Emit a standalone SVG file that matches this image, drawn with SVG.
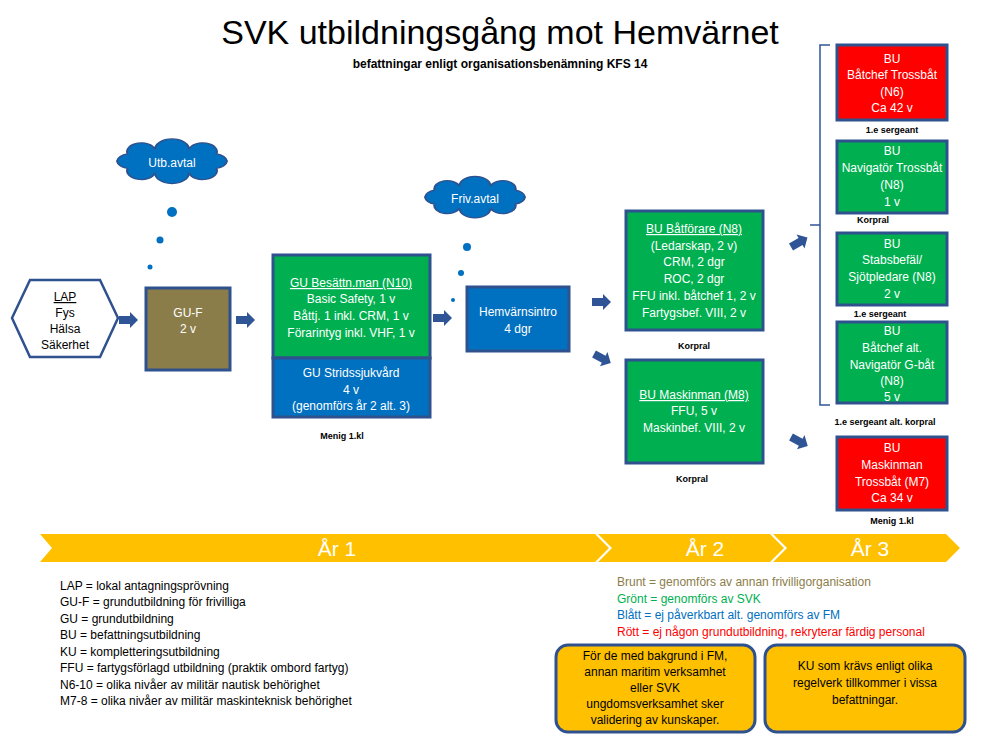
<svg xmlns="http://www.w3.org/2000/svg" xmlns:xlink="http://www.w3.org/1999/xlink" width="1000" height="750" viewBox="0 0 1000 750">
<style>
text{font-family:"Liberation Sans",Arial,sans-serif}
.bx{stroke:#2F528F;stroke-width:3}
.g{fill:#00B050}.b{fill:#0070C0}.r{fill:#FF0000}
.w{fill:#fff;font-size:12px;text-anchor:middle}
.s{font-size:9px;font-weight:bold;text-anchor:middle;fill:#000}
.lg{font-size:12px}
.cl{fill:#0070C0;stroke:#2F528F;stroke-width:2}
.dot{fill:#0070C0}
.yb{fill:#FFC000;stroke:#2F528F;stroke-width:3}
.bt{font-size:12px;text-anchor:middle;fill:#000}
</style>
<defs>
<path id="arr" d="M0,-4 H11 V-8 L19,0 L11,8 V4 H0 Z" fill="#2F5597"/>
</defs>
<rect width="1000" height="750" fill="#fff"/>
<text x="500" y="44" font-size="34" text-anchor="middle">SVK utbildningsgång mot Hemvärnet</text>
<text x="500" y="68" font-size="12" font-weight="bold" text-anchor="middle">befattningar enligt organisationsbenämning KFS 14</text>

<g id="clouds">
<path class="cl" transform="translate(0,62) scale(1,0.62)" d="M227,160 A14,14 0 0 1 216.5,171.8 A14,14 0 0 1 189,179 A14,14 0 0 1 155,179 A14,14 0 0 1 127.5,171.8 A14,14 0 0 1 117,160 A14,14 0 0 1 127.5,148.2 A14,14 0 0 1 155,141 A14,14 0 0 1 189,141 A14,14 0 0 1 216.5,148.2 A14,14 0 0 1 227,160 Z"/>
<text x="172" y="167" class="w" font-size="14">Utb.avtal</text>
<circle class="dot" cx="172" cy="212" r="5"/><circle class="dot" cx="160" cy="240" r="3.5"/><circle class="dot" cx="150" cy="267" r="2.5"/>
<path class="cl" transform="translate(0,75) scale(1,0.62)" d="M525,197 A13,13 0 0 1 515.5,208.2 A13,13 0 0 1 490.5,215 A13,13 0 0 1 459.5,215 A13,13 0 0 1 434.5,208.2 A13,13 0 0 1 425,197 A13,13 0 0 1 434.5,185.8 A13,13 0 0 1 459.5,179 A13,13 0 0 1 490.5,179 A13,13 0 0 1 515.5,185.8 A13,13 0 0 1 525,197 Z"/>
<text x="475" y="203" class="w" font-size="14">Friv.avtal</text>
<circle class="dot" cx="467" cy="247" r="4"/><circle class="dot" cx="461" cy="273" r="3"/><circle class="dot" cx="453" cy="300" r="2"/>
</g>

<g id="lap">
<polygon points="12,318 30,280 100,280 118,318 100,357 30,357" fill="#fff" stroke="#2F528F" stroke-width="2.5"/>
<text class="bt" x="65" y="301" text-decoration="underline">LAP</text>
<text class="bt" x="65" y="317">Fys</text>
<text class="bt" x="65" y="333">Hälsa</text>
<text class="bt" x="65" y="349">Säkerhet</text>
</g>
<g id="guf">
<rect class="bx" x="146" y="288" width="84" height="82" fill="#8B7D49"/>
<text class="w" x="188" y="317">GU-F</text><text class="w" x="188" y="333">2 v</text>
</g>
<g id="gubes">
<rect class="bx g" x="273" y="255" width="157" height="103"/>
<text class="w" x="351" y="287" text-decoration="underline">GU Besättn.man (N10)</text>
<text class="w" x="351" y="303">Basic Safety, 1 v</text>
<text class="w" x="351" y="320">Båttj. 1 inkl. CRM, 1 v</text>
<text class="w" x="351" y="337">Förarintyg inkl. VHF, 1 v</text>
</g>
<g id="gustr">
<rect class="bx b" x="273" y="358" width="157" height="59"/>
<text class="w" x="351" y="377">GU Stridssjukvård</text>
<text class="w" x="351" y="394">4 v</text>
<text class="w" x="351" y="410">(genomförs år 2 alt. 3)</text>
<text class="s" x="342" y="439">Menig 1.kl</text>
</g>
<g id="hemv">
<rect class="bx b" x="467" y="287" width="102" height="64"/>
<text class="w" x="518" y="316">Hemvärnsintro</text><text class="w" x="518" y="333">4 dgr</text>
</g>
<g id="batforare">
<rect class="bx g" x="626" y="211" width="137" height="119"/>
<text class="w" x="694" y="233" text-decoration="underline">BU Båtförare (N8)</text>
<text class="w" x="694" y="250">(Ledarskap, 2 v)</text>
<text class="w" x="694" y="266">CRM, 2 dgr</text>
<text class="w" x="694" y="283">ROC, 2 dgr</text>
<text class="w" x="694" y="300">FFU inkl. båtchef 1, 2 v</text>
<text class="w" x="694" y="317">Fartygsbef. VIII, 2 v</text>
<text class="s" x="694" y="349">Korpral</text>
</g>
<g id="maskinman">
<rect class="bx g" x="626" y="360" width="137" height="103"/>
<text class="w" x="694" y="399" text-decoration="underline">BU Maskinman (M8)</text>
<text class="w" x="694" y="415">FFU, 5 v</text>
<text class="w" x="694" y="432">Maskinbef. VIII, 2 v</text>
<text class="s" x="692" y="482">Korpral</text>
</g>
<g id="r1">
<rect class="bx r" x="837" y="45" width="110" height="75"/>
<text class="w" x="892" y="63">BU</text><text class="w" x="892" y="79">Båtchef Trossbåt</text><text class="w" x="892" y="96">(N6)</text><text class="w" x="892" y="112">Ca 42 v</text>
<text class="s" x="892" y="133">1.e sergeant</text>
</g>
<g id="r2">
<rect class="bx g" x="837" y="141" width="110" height="72"/>
<text class="w" x="892" y="155">BU</text><text class="w" x="892" y="172">Navigatör Trossbåt</text><text class="w" x="892" y="189">(N8)</text><text class="w" x="892" y="206">1 v</text>
<text class="s" x="873" y="223">Korpral</text>
</g>
<g id="r3">
<rect class="bx g" x="837" y="233" width="110" height="72"/>
<text class="w" x="892" y="248">BU</text><text class="w" x="892" y="264">Stabsbefäl/</text><text class="w" x="892" y="281">Sjötpledare (N8)</text><text class="w" x="892" y="298">2 v</text>
<text class="s" x="880" y="317">1.e sergeant</text>
</g>
<g id="r4">
<rect class="bx g" x="837" y="322" width="110" height="81"/>
<text class="w" x="892" y="335">BU</text><text class="w" x="892" y="352">Båtchef alt.</text><text class="w" x="892" y="369">Navigatör G-båt</text><text class="w" x="892" y="385">(N8)</text><text class="w" x="892" y="401">5 v</text>
<text class="s" x="885" y="425">1.e sergeant alt. korpral</text>
</g>
<g id="r5">
<rect class="bx r" x="837" y="437" width="110" height="73"/>
<text class="w" x="892" y="452">BU</text><text class="w" x="892" y="469">Maskinman</text><text class="w" x="892" y="486">Trossbåt (M7)</text><text class="w" x="892" y="502">Ca 34 v</text>
<text class="s" x="892" y="524">Menig 1.kl</text>
</g>

<g id="connectors">
<use xlink:href="#arr" transform="translate(119,320)"/>
<use xlink:href="#arr" transform="translate(236,320)"/>
<use xlink:href="#arr" transform="translate(433,318)"/>
<use xlink:href="#arr" transform="translate(592,302)"/>
<use xlink:href="#arr" transform="translate(594,354) rotate(28)"/>
<use xlink:href="#arr" transform="translate(791,247) rotate(-30)"/>
<use xlink:href="#arr" transform="translate(791,437) rotate(28)"/>
<path d="M830,45 H820 V405 H830 M820,225 H810" fill="none" stroke="#2F5597" stroke-width="1.5"/>
</g>

<g id="timeline">
<polygon points="40,534 595,534 609,548 595,562 40,562 52,548" fill="#FFC000"/>
<polygon points="598,534 770,534 784,548 770,562 598,562 612,548" fill="#FFC000"/>
<polygon points="773,534 946,534 960,548 946,562 773,562 787,548" fill="#FFC000"/>
<text x="337" y="556" font-size="21" fill="#fff" text-anchor="middle">År 1</text>
<text x="705" y="556" font-size="21" fill="#fff" text-anchor="middle">År 2</text>
<text x="870" y="556" font-size="21" fill="#fff" text-anchor="middle">År 3</text>
</g>

<g id="legend">
<text class="lg" x="60" y="590" fill="#000">LAP = lokal antagningsprövning</text>
<text class="lg" x="60" y="606" fill="#000">GU-F = grundutbildning för frivilliga</text>
<text class="lg" x="60" y="623" fill="#000">GU = grundutbildning</text>
<text class="lg" x="60" y="639" fill="#000">BU = befattningsutbildning</text>
<text class="lg" x="60" y="656" fill="#000">KU = kompletteringsutbildning</text>
<text class="lg" x="60" y="672" fill="#000">FFU = fartygsförlagd utbildning (praktik ombord fartyg)</text>
<text class="lg" x="60" y="689" fill="#000">N6-10 = olika nivåer av militär nautisk behörighet</text>
<text class="lg" x="60" y="705" fill="#000">M7-8 = olika nivåer av militär maskinteknisk behörighet</text>
<text class="lg" x="617" y="586" fill="#8B7D49">Brunt = genomförs av annan frivilligorganisation</text>
<text class="lg" x="617" y="603" fill="#00B050">Grönt = genomförs av SVK</text>
<text class="lg" x="617" y="619" fill="#0070C0">Blått = ej påverkbart alt. genomförs av FM</text>
<text class="lg" x="617" y="636" fill="#FF0000">Rött = ej någon grundutbildning, rekryterar färdig personal</text>
</g>
<g id="note1">
<rect class="yb" x="556" y="645" width="199" height="87" rx="12"/>
<text class="bt" x="655" y="660">För de med bakgrund i FM,</text>
<text class="bt" x="655" y="676">annan maritim verksamhet</text>
<text class="bt" x="655" y="692">eller SVK</text>
<text class="bt" x="655" y="708">ungdomsverksamhet sker</text>
<text class="bt" x="655" y="724">validering av kunskaper.</text>
</g>
<g id="note2">
<rect class="yb" x="765" y="645" width="200" height="87" rx="12"/>
<text class="bt" x="865" y="670">KU som krävs enligt olika</text>
<text class="bt" x="865" y="687">regelverk tillkommer i vissa</text>
<text class="bt" x="865" y="704">befattningar.</text>
</g>
</svg>
